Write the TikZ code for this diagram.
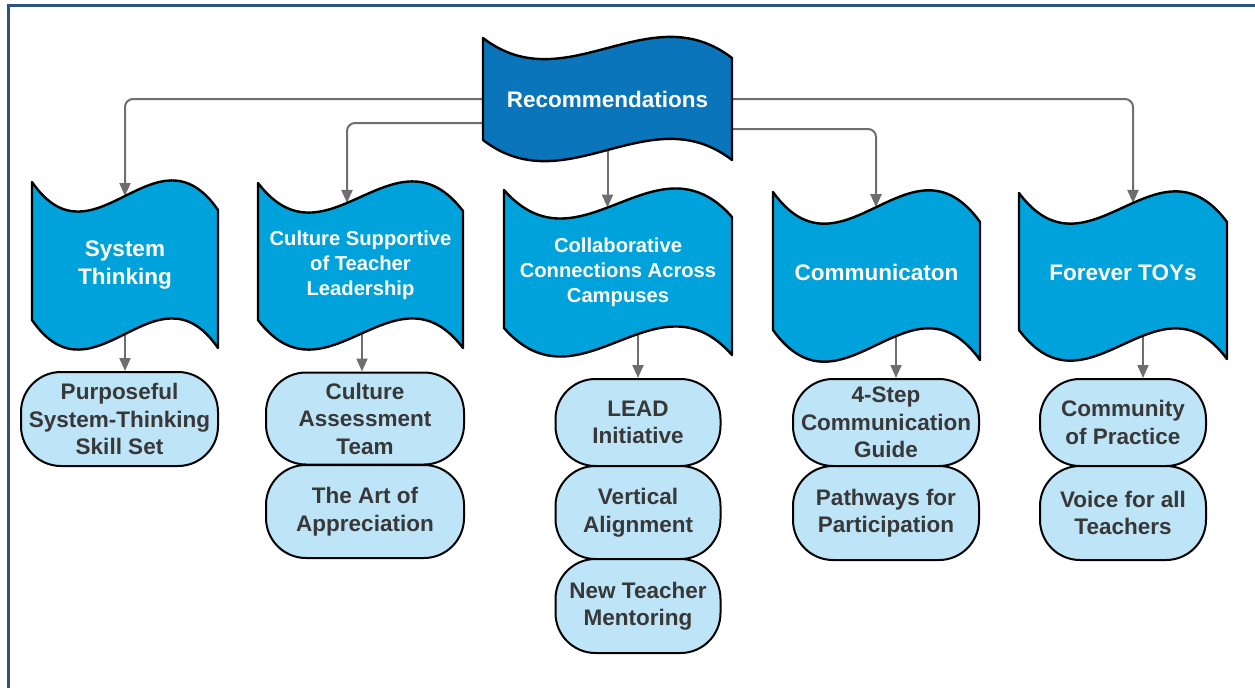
\documentclass[tikz,border=0pt]{standalone}
\usepackage{fontspec}
\setmainfont{Liberation Sans}
\usetikzlibrary{arrows.meta,calc}
\pgfdeclarelayer{bg}
\pgfsetlayers{bg,main}

\definecolor{framecol}{HTML}{2B5283}
\definecolor{headfill}{HTML}{0A75BA}
\definecolor{tapefill}{HTML}{00A2DB}
\definecolor{pillfill}{HTML}{BEE4F8}
\definecolor{pilltext}{HTML}{383838}
\definecolor{linkcol}{HTML}{6E6E6E}

\tikzset{
  tapeline/.style={draw=black, line width=1.2pt, line join=round},
  tapetext/.style={inner sep=0pt, align=center, text=white,
    font=\fontsize{11.25}{13.75}\selectfont\bfseries},
  tapesmall/.style={font=\fontsize{10.1}{12.5}\selectfont\bfseries},
  pill/.style={draw=black, line width=1pt, fill=pillfill, rounded corners=20pt,
    inner sep=0pt, align=center, text=pilltext,
    font=\fontsize{11.25}{13.75}\selectfont\bfseries},
  link/.style={draw=linkcol, line width=1pt, rounded corners=4pt,
    -{Triangle[length=6.5pt,width=5.5pt]}},
}

% wavy tape: name, left, top, width, height, drop, fill, node options, text
\newcommand{\wavetape}[9]{%
  \pgfmathsetmacro{\wtR}{#2+#4}%
  \pgfmathsetmacro{\wtA}{#2+#4/3}%
  \pgfmathsetmacro{\wtB}{#2+2*#4/3}%
  \pgfmathsetmacro{\wtTa}{#3+3.2*#6}%
  \pgfmathsetmacro{\wtTb}{#3-2.2*#6}%
  \pgfmathsetmacro{\wtTd}{#3+#6}%
  \pgfmathsetmacro{\wtBo}{#3+#5}%
  \pgfmathsetmacro{\wtBa}{#3+#5+3.2*#6}%
  \pgfmathsetmacro{\wtBb}{#3+#5-2.2*#6}%
  \pgfmathsetmacro{\wtBd}{#3+#5+#6}%
  \filldraw[tapeline, fill=#7] (#2,#3) .. controls (\wtA,\wtTa) and (\wtB,\wtTb) .. (\wtR,\wtTd)
     -- (\wtR,\wtBd) .. controls (\wtB,\wtBb) and (\wtA,\wtBa) .. (#2,\wtBo) -- cycle;
  \pgfmathsetmacro{\wtCx}{#2+#4/2}%
  \pgfmathsetmacro{\wtCy}{#3+(#5+#6)/2}%
  \pgfmathsetmacro{\wtW}{#4*0.5}%
  \pgfmathsetmacro{\wtH}{#5*0.5}%
  \node[tapetext, minimum width=\wtW pt, minimum height=\wtH pt, #8] (#1) at (\wtCx,\wtCy) {#9};
}

% point on the upper wave of a tape: name, x, left, top, width, drop
\newcommand{\waveat}[6]{%
  \pgfmathsetmacro{\wvt}{(#2-#3)/#5}%
  \pgfmathsetmacro{\wvy}{#4+#6*(9.6*(1-\wvt)^2*\wvt - 6.6*(1-\wvt)*\wvt^2 + \wvt^3)}%
  \coordinate (#1) at (#2,\wvy);
}

% rounded box: name, centre x, centre y, width, height, text
\newcommand{\pillbox}[6]{%
  \pgfmathsetmacro{\pbW}{#4*0.5}%
  \pgfmathsetmacro{\pbH}{#5*0.5}%
  \node[pill, minimum width=\pbW pt, minimum height=\pbH pt] (#1) at (#2,#3) {#6};
}

\begin{document}
\begin{tikzpicture}[x=0.5pt, y=-0.5pt]
\useasboundingbox (0,0) rectangle (1255,687);

% page frame
\draw[framecol, line width=1.2pt] (8.5,690) -- (8.5,5.5) -- (1260,5.5);

% top level
\wavetape{rec}{483}{38}{249}{102}{20}{headfill}{}{Recommendations}

% second level
\wavetape{st}{32}{182}{186}{138}{28}{tapefill}{}{System\\Thinking}
\wavetape{cs}{258}{183}{205}{137}{28}{tapefill}{tapesmall}{Culture Supportive\\of Teacher\\Leadership}
\wavetape{cc}{504}{190}{228}{138}{27}{tapefill}{tapesmall}{Collaborative\\Connections Across\\Campuses}
\wavetape{cm}{773}{192}{207}{138}{30}{tapefill}{yshift=1.8pt}{Communicaton}
\wavetape{ft}{1019}{193}{208}{137}{29}{tapefill}{yshift=1.5pt}{Forever TOYs}

\waveat{stin}{125}{32}{182}{186}{28}
\waveat{csin}{347}{258}{183}{205}{28}
\waveat{ccin}{607.5}{504}{190}{228}{27}
\waveat{cmin}{876}{773}{192}{207}{30}
\waveat{ftin}{1133}{1019}{193}{208}{29}

% third level
\pillbox{st1}{119.5}{419}{197}{94}{Purposeful\\System-Thinking\\Skill Set}
\pillbox{cs1}{365}{418.5}{198}{92}{Culture\\Assessment\\Team}
\pillbox{cs2}{365}{511.5}{198}{93}{The Art of\\Appreciation}
\pillbox{cc1}{638}{422.5}{165}{87}{LEAD\\Initiative}
\pillbox{cc2}{638}{512.5}{165}{93}{Vertical\\Alignment}
\pillbox{cc3}{638}{606}{165}{94}{New Teacher\\Mentoring}
\pillbox{cm1}{886}{422.5}{186}{87}{4-Step\\Communication\\Guide}
\pillbox{cm2}{886}{513}{186}{94}{Pathways for\\Participation}
\pillbox{ft1}{1123}{422.5}{166}{87}{Community\\of Practice}
\pillbox{ft2}{1123}{513}{166}{94}{Voice for all\\Teachers}

\coordinate (csx) at (362,0);
\coordinate (ccx) at (638,0);
\coordinate (cmx) at (896,0);
\coordinate (ftx) at (1143,0);

\begin{pgfonlayer}{bg}
  \draw[link] (rec.west) -| (stin);
  \draw[link] ([yshift=-12pt]rec.west) -| (csin);
  \draw[link] (rec.south) -- (ccin);
  \draw[link] ([yshift=-15pt]rec.east) -| (cmin);
  \draw[link] (rec.east) -| (ftin);

  \draw[link] (st) -- (st1.north -| st);
  \draw[link] (cs -| csx) -- (cs1.north -| csx);
  \draw[link] (cc -| ccx) -- (cc1.north -| ccx);
  \draw[link] (cm -| cmx) -- (cm1.north -| cmx);
  \draw[link] (ft -| ftx) -- (ft1.north -| ftx);
\end{pgfonlayer}
\end{tikzpicture}
\end{document}
